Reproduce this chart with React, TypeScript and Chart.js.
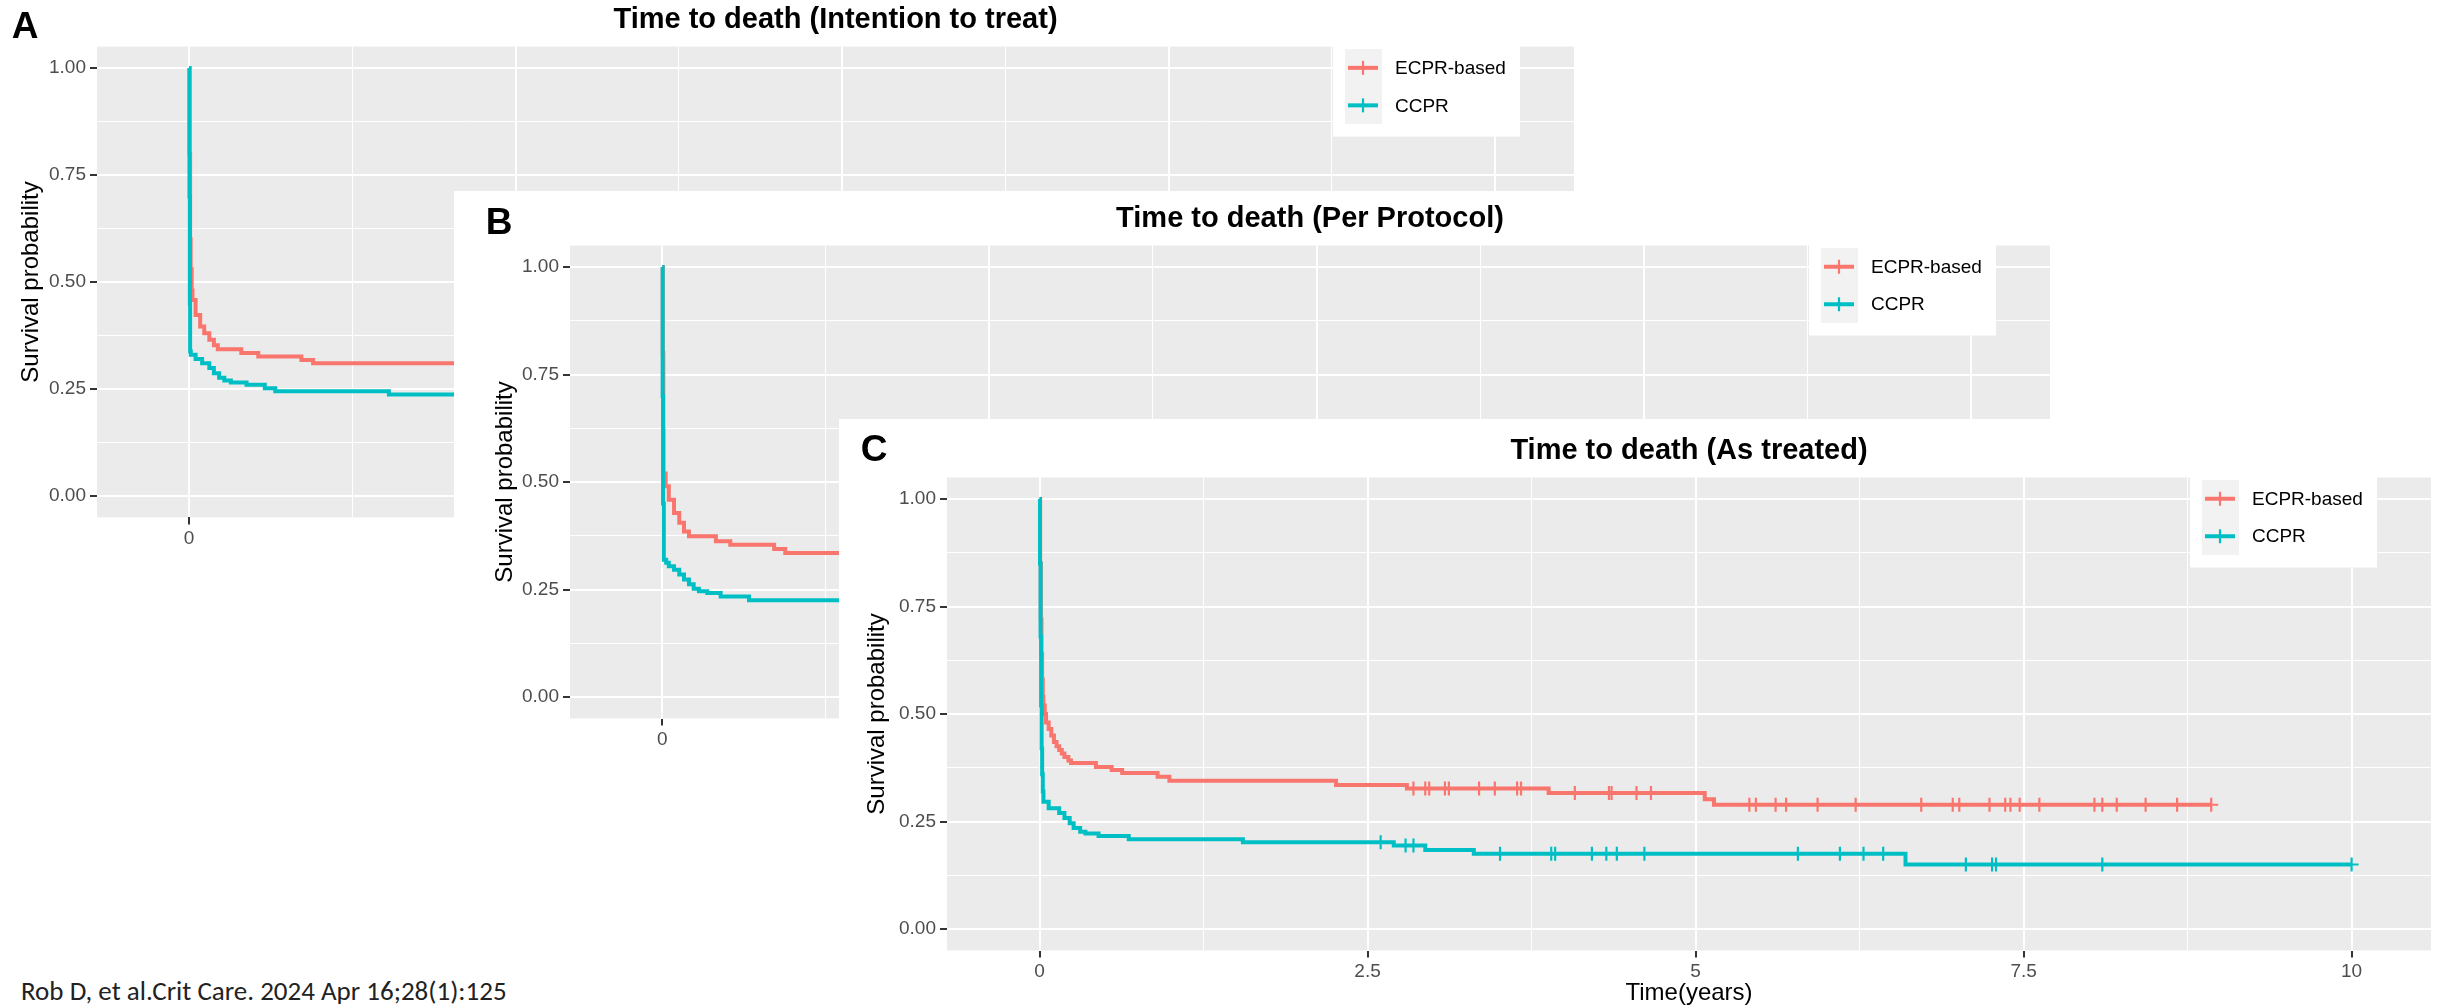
import React, { useEffect, useRef } from 'react';
import { Chart, registerables } from 'chart.js';

Chart.register(...registerables);

const FONT = "'Liberation Sans', Arial, Helvetica, sans-serif";
const RED = '#F8766D';
const TEAL = '#00BFC4';

// ---------------- data ----------------
const seriesNames = ['ECPR-based', 'CCPR'];
const panelTitles = [
  'Time to death (Intention to treat)',
  'Time to death (Per Protocol)',
  'Time to death (As treated)',
];
const panelLetters = ['A', 'B', 'C'];
const xAxisTitle = 'Time(years)';
const yAxisTitle = 'Survival probability';
const xTickValues = [0, 2.5, 5, 7.5, 10];
const xTickLabels = ['0', '2.5', '5', '7.5', '10'];
const yTickValues = [0, 0.25, 0.5, 0.75, 1];
const yTickLabels = ['0.00', '0.25', '0.50', '0.75', '1.00'];
const X_MIN = -0.705;
const X_MAX = 10.605;
const Y_MIN = -0.05;
const Y_MAX = 1.05;
const citation = 'Rob D, et al.Crit Care. 2024 Apr 16;28(1):125';

// A: Intention to treat (visible part only)
const ittEcprTime = [0, 0.004, 0.008, 0.012, 0.02, 0.026, 0.05, 0.085, 0.116, 0.155, 0.19, 0.22, 0.4, 0.53, 0.86, 0.95, 2.5];
const ittEcprSurv = [1.0, 0.8, 0.6, 0.53, 0.48, 0.458, 0.423, 0.396, 0.38, 0.365, 0.352, 0.343, 0.334, 0.326, 0.318, 0.31, 0.31];
const ittCcprTime = [0, 0.003, 0.006, 0.008, 0.013, 0.05, 0.1, 0.155, 0.19, 0.23, 0.27, 0.32, 0.44, 0.58, 0.66, 1.53, 2.5];
const ittCcprSurv = [1.0, 0.7, 0.45, 0.338, 0.33, 0.32, 0.31, 0.299, 0.287, 0.276, 0.27, 0.265, 0.26, 0.252, 0.245, 0.237, 0.237];
const ittEcprCensor: number[] = [];
const ittCcprCensor: number[] = [];

// B: Per protocol (visible part only)
const ppEcprTime = [0, 0.004, 0.008, 0.01, 0.026, 0.05, 0.09, 0.13, 0.166, 0.204, 0.41, 0.52, 0.855, 0.94, 1.8];
const ppEcprSurv = [1.0, 0.8, 0.62, 0.52, 0.49, 0.459, 0.428, 0.405, 0.385, 0.374, 0.362, 0.354, 0.344, 0.335, 0.335];
const ppCcprTime = [0, 0.003, 0.006, 0.012, 0.03, 0.05, 0.09, 0.13, 0.166, 0.204, 0.24, 0.28, 0.344, 0.446, 0.663, 1.8];
const ppCcprSurv = [1.0, 0.7, 0.45, 0.319, 0.312, 0.304, 0.296, 0.285, 0.273, 0.262, 0.252, 0.246, 0.242, 0.234, 0.225, 0.225];
const ppEcprCensor: number[] = [];
const ppCcprCensor: number[] = [];

// C: As treated
const atEcprTime = [0, 0.005, 0.01, 0.015, 0.02, 0.025, 0.03, 0.04, 0.05, 0.07, 0.09, 0.11, 0.13, 0.15, 0.17, 0.19, 0.22, 0.24, 0.43, 0.55, 0.63, 0.9, 0.99, 2.26, 2.8, 3.88, 5.07, 5.14, 8.93];
const atEcprSurv = [1.0, 0.85, 0.72, 0.64, 0.58, 0.54, 0.52, 0.5, 0.48, 0.465, 0.45, 0.435, 0.425, 0.416, 0.408, 0.4, 0.392, 0.386, 0.377, 0.37, 0.363, 0.354, 0.345, 0.335, 0.327, 0.316, 0.302, 0.289, 0.289];
const atCcprTime = [0, 0.004, 0.008, 0.012, 0.016, 0.02, 0.025, 0.03, 0.07, 0.15, 0.19, 0.23, 0.26, 0.31, 0.35, 0.45, 0.68, 1.55, 2.7, 2.94, 3.31, 6.6, 10.0];
const atCcprSurv = [1.0, 0.85, 0.68, 0.52, 0.42, 0.36, 0.32, 0.296, 0.281, 0.27, 0.258, 0.246, 0.235, 0.226, 0.222, 0.216, 0.209, 0.202, 0.194, 0.184, 0.175, 0.15, 0.15];
const atEcprCensor = [2.85, 2.94, 2.97, 3.09, 3.12, 3.35, 3.47, 3.64, 3.67, 4.08, 4.34, 4.36, 4.55, 4.66, 5.41, 5.46, 5.61, 5.69, 5.93, 6.22, 6.72, 6.96, 7.01, 7.24, 7.36, 7.4, 7.47, 7.62, 8.04, 8.1, 8.21, 8.43, 8.67, 8.93];
const atCcprCensor = [2.6, 2.79, 2.85, 3.51, 3.9, 3.93, 4.21, 4.32, 4.4, 4.61, 5.78, 6.1, 6.28, 6.43, 7.06, 7.26, 7.29, 8.1, 10.0];

// ---------------- layout (page pixels) ----------------
type Rect = { left: number; top: number; width: number; height: number };
type PlotRect = { left: number; top: number; right: number; bottom: number };
interface PanelCfg {
  idx: number;
  box: Rect;
  plot: PlotRect;
  letterPos: { x: number; y: number };
  yTitleX: number;
  curves: { time: number[]; surv: number[]; censor: number[] }[];
}

const PANELS: PanelCfg[] = [
  {
    idx: 0,
    box: { left: 0, top: 0, width: 1600, height: 600 },
    plot: { left: 97, top: 46.6, right: 1574, bottom: 517.4 },
    letterPos: { x: 25, y: 28 },
    yTitleX: 31,
    curves: [
      { time: ittEcprTime, surv: ittEcprSurv, censor: ittEcprCensor },
      { time: ittCcprTime, surv: ittCcprSurv, censor: ittCcprCensor },
    ],
  },
  {
    idx: 1,
    box: { left: 454, top: 191, width: 1640, height: 600 },
    plot: { left: 570, top: 245.5, right: 2050, bottom: 718.5 },
    letterPos: { x: 499, y: 223.5 },
    yTitleX: 505,
    curves: [
      { time: ppEcprTime, surv: ppEcprSurv, censor: ppEcprCensor },
      { time: ppCcprTime, surv: ppCcprSurv, censor: ppCcprCensor },
    ],
  },
  {
    idx: 2,
    box: { left: 839, top: 419, width: 1607, height: 600 },
    plot: { left: 947, top: 477.5, right: 2431, bottom: 950.5 },
    letterPos: { x: 874, y: 451 },
    yTitleX: 877,
    curves: [
      { time: atEcprTime, surv: atEcprSurv, censor: atEcprCensor },
      { time: atCcprTime, surv: atCcprSurv, censor: atCcprCensor },
    ],
  },
];

const COLORS = [RED, TEAL];

function survAt(time: number[], surv: number[], t: number): number {
  let v = surv[0];
  for (let i = 0; i < time.length; i++) {
    if (time[i] <= t + 1e-9) v = surv[i];
    else break;
  }
  return v;
}

function near(list: number[], v: number): number {
  for (let i = 0; i < list.length; i++) if (Math.abs(list[i] - v) < 1e-6) return i;
  return -1;
}

function gridValues(major: number[], lo: number, hi: number): number[] {
  const out: number[] = [];
  const step = major[1] - major[0];
  const all: number[] = [];
  for (let i = -2; i < major.length + 2; i++) {
    const m = major[0] + i * step;
    all.push(m, m + step / 2);
  }
  for (const v of all) if (v > lo && v < hi) out.push(Math.round(v * 1e6) / 1e6);
  return out.sort((a, b) => a - b);
}

function KMPanel({ cfg }: { cfg: PanelCfg }) {
  const ref = useRef<HTMLCanvasElement>(null);
  const { box, plot } = cfg;

  useEffect(() => {
    const canvas = ref.current;
    if (!canvas) return;
    const axisW = plot.left - box.left;
    const axisH = 60;
    const padTop = plot.top - box.top;
    const padRight = box.left + box.width - plot.right;
    const padBottom = box.top + box.height - plot.bottom - axisH;

    const xGrid = gridValues(xTickValues, X_MIN, X_MAX);
    const yGrid = gridValues(yTickValues, Y_MIN, Y_MAX);

    const datasets: any[] = [];
    cfg.curves.forEach((c, i) => {
      datasets.push({
        label: seriesNames[i],
        data: c.time.map((t, k) => ({ x: t, y: c.surv[k] })),
        borderColor: COLORS[i],
        backgroundColor: COLORS[i],
        borderWidth: 4,
        stepped: 'before',
        pointRadius: 0,
        fill: false,
        order: 4 - i,
      });
    });
    cfg.curves.forEach((c, i) => {
      datasets.push({
        label: seriesNames[i] + ' censor',
        data: c.censor.map((t) => ({ x: t, y: survAt(c.time, c.surv, t) })),
        showLine: false,
        pointStyle: 'cross',
        pointRadius: 7,
        pointBorderWidth: 2.2,
        pointBorderColor: COLORS[i],
        pointBackgroundColor: COLORS[i],
        borderColor: COLORS[i],
        order: 2 - i,
      });
    });

    const local = (x: number, y: number) => ({ x: x - box.left, y: y - box.top });

    const decor = {
      id: 'decor' + cfg.idx,
      beforeDraw(chart: any) {
        const ctx = chart.ctx;
        const a = chart.chartArea;
        ctx.save();
        ctx.fillStyle = '#ffffff';
        ctx.fillRect(0, 0, chart.width, chart.height);
        ctx.fillStyle = '#EBEBEB';
        ctx.fillRect(a.left, a.top, a.right - a.left, a.bottom - a.top);
        ctx.restore();
      },
      afterDraw(chart: any) {
        const ctx = chart.ctx;
        const a = chart.chartArea;
        const L = a.left, R = a.right, T = a.top, B = a.bottom;
        ctx.save();
        // panel letter
        const lp = local(cfg.letterPos.x, cfg.letterPos.y);
        ctx.fillStyle = '#000';
        ctx.font = `bold 37px ${FONT}`;
        ctx.textAlign = 'center';
        ctx.textBaseline = 'middle';
        ctx.fillText(panelLetters[cfg.idx], lp.x, lp.y);
        // title
        ctx.font = `bold 29px ${FONT}`;
        ctx.fillText(panelTitles[cfg.idx], (L + R) / 2, T - 27);
        // y-axis title
        const yx = cfg.yTitleX - box.left;
        ctx.save();
        ctx.translate(yx, (T + B) / 2);
        ctx.rotate(-Math.PI / 2);
        ctx.font = `24px ${FONT}`;
        ctx.fillText(yAxisTitle, 0, 0);
        ctx.restore();
        // x-axis title
        ctx.font = `24px ${FONT}`;
        ctx.fillText(xAxisTitle, (L + R) / 2, B + 43);
        // legend
        ctx.fillStyle = '#ffffff';
        ctx.fillRect(R - 241, T - 2, 187, 92);
        ctx.fillStyle = '#F2F2F2';
        ctx.fillRect(R - 229, T + 2.5, 37, 75);
        const rows = [T + 21.25, T + 58.75];
        rows.forEach((ry, i) => {
          ctx.strokeStyle = COLORS[i];
          ctx.lineWidth = 4;
          ctx.beginPath();
          ctx.moveTo(R - 226, ry);
          ctx.lineTo(R - 196, ry);
          ctx.stroke();
          ctx.lineWidth = 2.2;
          ctx.beginPath();
          ctx.moveTo(R - 211, ry - 7);
          ctx.lineTo(R - 211, ry + 7);
          ctx.stroke();
          ctx.fillStyle = '#000';
          ctx.font = `19px ${FONT}`;
          ctx.textAlign = 'left';
          ctx.textBaseline = 'middle';
          ctx.fillText(seriesNames[i], R - 179, ry + 1);
        });
        ctx.restore();
      },
    };

    const chart = new Chart(canvas, {
      type: 'line',
      data: { datasets },
      options: {
        animation: false,
        responsive: false,
        devicePixelRatio: 1,
        layout: { padding: { left: 0, top: padTop, right: padRight, bottom: padBottom } },
        plugins: {
          legend: { display: false },
          tooltip: { enabled: false },
          title: { display: false },
        },
        scales: {
          x: {
            type: 'linear',
            min: X_MIN,
            max: X_MAX,
            afterBuildTicks: (s: any) => {
              s.ticks = xGrid.map((v) => ({ value: v }));
            },
            afterFit: (s: any) => {
              s.height = axisH;
            },
            border: { display: false },
            grid: {
              color: '#ffffff',
              lineWidth: (c: any) => (c.tick && near(xTickValues, c.tick.value) >= 0 ? 2 : 1),
              drawTicks: true,
              tickLength: 7,
              tickWidth: 2,
              tickColor: (c: any) => (c.tick && near(xTickValues, c.tick.value) >= 0 ? '#333333' : 'rgba(0,0,0,0)'),
            },
            ticks: {
              autoSkip: false,
              maxRotation: 0,
              minRotation: 0,
              padding: 3,
              color: '#4D4D4D',
              font: { family: FONT, size: 19 },
              callback: (v: any) => {
                const i = near(xTickValues, Number(v));
                return i >= 0 ? xTickLabels[i] : '';
              },
            },
          },
          y: {
            type: 'linear',
            min: Y_MIN,
            max: Y_MAX,
            afterBuildTicks: (s: any) => {
              s.ticks = yGrid.map((v) => ({ value: v }));
            },
            afterFit: (s: any) => {
              s.width = axisW;
            },
            border: { display: false },
            grid: {
              color: '#ffffff',
              lineWidth: (c: any) => (c.tick && near(yTickValues, c.tick.value) >= 0 ? 2 : 1),
              drawTicks: true,
              tickLength: 7,
              tickWidth: 2,
              tickColor: (c: any) => (c.tick && near(yTickValues, c.tick.value) >= 0 ? '#333333' : 'rgba(0,0,0,0)'),
            },
            ticks: {
              autoSkip: false,
              padding: 4,
              color: '#4D4D4D',
              font: { family: FONT, size: 19 },
              callback: (v: any) => {
                const i = near(yTickValues, Number(v));
                return i >= 0 ? yTickLabels[i] : '';
              },
            },
          },
        },
      } as any,
      plugins: [decor],
    });

    return () => {
      chart.destroy();
    };
  }, []);

  return (
    <div
      style={{
        position: 'absolute',
        left: box.left,
        top: box.top,
        width: box.width,
        height: box.height,
        background: '#ffffff',
      }}
    >
      <canvas ref={ref} width={box.width} height={box.height} style={{ display: 'block', width: box.width, height: box.height }} />
    </div>
  );
}

export default function App() {
  return (
    <div
      style={{
        position: 'absolute',
        left: 0,
        top: 0,
        width: 2446,
        height: 1008,
        overflow: 'hidden',
        background: '#ffffff',
      }}
    >
      {PANELS.map((p) => (
        <KMPanel key={p.idx} cfg={p} />
      ))}
      <div
        style={{
          position: 'absolute',
          left: 21,
          top: 975,
          fontFamily: "Carlito, Calibri, Lato, 'Noto Sans', sans-serif",
          fontSize: 27,
          lineHeight: '32px',
          color: '#222222',
          whiteSpace: 'nowrap',
        }}
      >
        {citation}
      </div>
    </div>
  );
}
